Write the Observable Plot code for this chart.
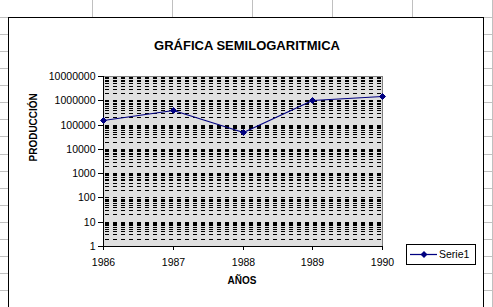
<!DOCTYPE html>
<html>
<head>
<meta charset="utf-8">
<script src="https://cdn.jsdelivr.net/npm/d3@7"></script>
<script src="https://cdn.jsdelivr.net/npm/@observablehq/plot@0.6"></script>
<style>
  html, body { margin: 0; padding: 0; background: #fff; }
  #sheet { position: relative; width: 493px; height: 307px; overflow: hidden; background: #fff; font-family: "Liberation Sans", Arial, sans-serif; }
  .gl { position: absolute; background: #c0c0c0; }
  #box { position: absolute; left: 8px; top: 17px; width: 476px; height: 400px; box-sizing: border-box; border: 1px solid #000; background: #fff; }
  #plot { position: absolute; left: 0; top: 0; }
  #legend { position: absolute; left: 406px; top: 244px; width: 70px; height: 21px; box-sizing: border-box; border: 1px solid #000; background: #fff; font-size: 10.5px; }
  #legend svg { position: absolute; left: 0; top: 0; }
  #legend span { position: absolute; left: 32px; top: 3px; line-height: 13px; }
</style>
</head>
<body>
<div id="sheet"></div>
<script>
// ---- data ----
const years = [1986, 1987, 1988, 1989, 1990];
const produccion = [150000, 380000, 50000, 1000000, 1500000];
const yTicks = [1, 10, 100, 1000, 10000, 100000, 1000000, 10000000];
const seriesName = "Serie1";
const title = "GRÁFICA SEMILOGARITMICA";
const xLabel = "AÑOS";
const yLabel = "PRODUCCIÓN";

const data = years.map((y, i) => ({year: y, value: produccion[i]}));
// minor gridlines: 2..10 x each decade
const gridValues = [];
yTicks.slice(0, -1).forEach(d => { for (let m = 2; m <= 10; m++) gridValues.push(d * m); });

const sheet = document.getElementById("sheet");

// spreadsheet gridlines (decoration)
[92, 172, 252, 332, 412, 492].forEach(x => {
  const v = document.createElement("div"); v.className = "gl";
  v.style.left = x + "px"; v.style.top = "0px"; v.style.width = "1px"; v.style.height = "307px";
  sheet.appendChild(v);
});
for (let k = 0; k < 18; k++) {
  const y = Math.round(17 + 17.0625 * k);
  const h = document.createElement("div"); h.className = "gl";
  h.style.left = "0px"; h.style.top = y + "px"; h.style.width = "493px"; h.style.height = "1px";
  sheet.appendChild(h);
}

const box = document.createElement("div"); box.id = "box"; sheet.appendChild(box);

const chart = Plot.plot({
  width: 493, height: 307,
  marginLeft: 103, marginRight: 111, marginTop: 76, marginBottom: 61,
  style: {background: "transparent", fontFamily: "'Liberation Sans', Arial, sans-serif", fontSize: "10.5px", color: "black", overflow: "visible"},
  x: {domain: [1986, 1990], label: null, round: true},
  y: {type: "log", domain: [1, 10000000], label: null, round: true},
  marks: [
    Plot.frame({fill: "#e0e0e0", stroke: null}),
    Plot.ruleY(gridValues, {stroke: "black", strokeWidth: 1, strokeDasharray: "4,4", strokeDashoffset: -2}),
    Plot.frame({stroke: "#808080"}),
    Plot.ruleX([1986], {stroke: "black"}),
    Plot.ruleY([1], {stroke: "black"}),
    Plot.axisY({ticks: yTicks, tickFormat: d => String(d), tickSize: 5, tickPadding: 3, label: null}),
    Plot.axisX({ticks: years, tickFormat: d => String(d), tickSize: 4, tickPadding: 8, label: null}),
    Plot.line(data, {x: "year", y: "value", stroke: "#000080", strokeWidth: 1.25}),
    Plot.dot(data, {x: "year", y: "value", symbol: "diamond2", r: 2.7, fill: "#000080", stroke: "#000080", strokeWidth: 1}),
    Plot.text([title], {text: d => d, frameAnchor: "top", dx: 4, dy: -36, fontWeight: "bold", fontSize: 13}),
    Plot.text([yLabel], {text: d => d, frameAnchor: "left", dx: -70, rotate: -90, fontWeight: "bold", fontSize: 10}),
    Plot.text([xLabel], {text: d => d, frameAnchor: "bottom", dx: -1, dy: 37, fontWeight: "bold", fontSize: 10})
  ]
});
chart.id = "plot";
sheet.appendChild(chart);

// legend
const lg = document.createElement("div"); lg.id = "legend";
lg.innerHTML = `<svg width="30" height="19"><line x1="3" x2="31" y1="9.5" y2="9.5" stroke="#000080" stroke-width="1.25"/><path d="M17,6 L20.5,9.5 L17,13 L13.5,9.5 Z" fill="#000080"/></svg><span></span>`;
lg.querySelector("span").textContent = seriesName;
sheet.appendChild(lg);
</script>
</body>
</html>
